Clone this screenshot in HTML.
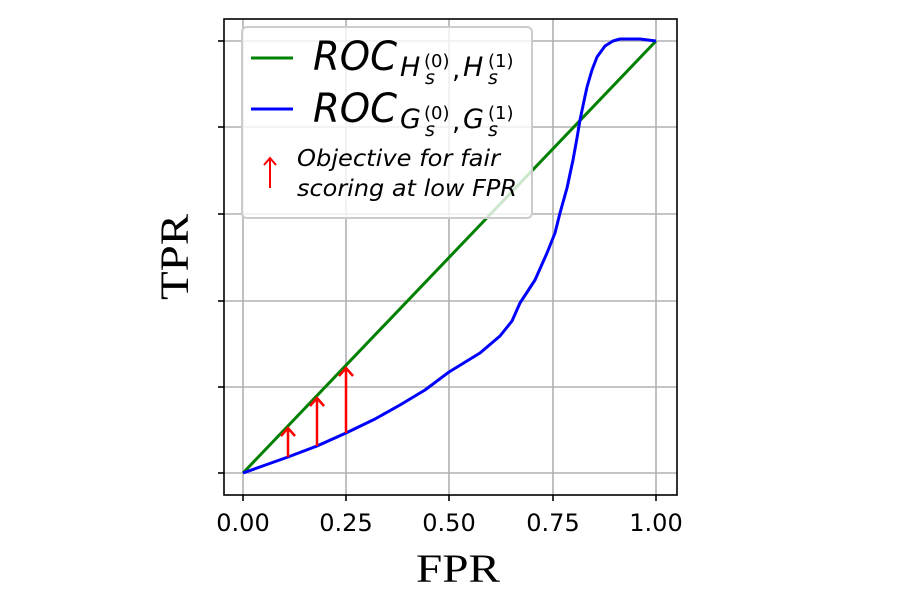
<!DOCTYPE html>
<html><head><meta charset="utf-8"><style>body{margin:0;background:#fff}svg{display:block}</style></head><body>
<svg width="900" height="600" viewBox="0 0 900 600" xmlns="http://www.w3.org/2000/svg" font-family="DejaVu Sans, Liberation Sans, sans-serif">
<g stroke="#b0b0b0" stroke-width="1.6">
<line x1="243" y1="19" x2="243" y2="495"/><line x1="346" y1="19" x2="346" y2="495"/><line x1="449" y1="19" x2="449" y2="495"/><line x1="553" y1="19" x2="553" y2="495"/><line x1="656" y1="19" x2="656" y2="495"/>
<line x1="224" y1="41" x2="677" y2="41"/><line x1="224" y1="127" x2="677" y2="127"/><line x1="224" y1="214" x2="677" y2="214"/><line x1="224" y1="301" x2="677" y2="301"/><line x1="224" y1="387" x2="677" y2="387"/><line x1="224" y1="473" x2="677" y2="473"/>
</g>
<line x1="243" y1="473" x2="656" y2="41" stroke="#008000" stroke-width="3"/>
<polyline points="243,473 288,457 317,446 346,433 375,419 400,405 425,390 449,372 480,353 500,336 512,321 520,303 535,280 547,253 555,233 560,213 567,188 573,160 577,138 580,120 584,101 587,87 592,70 597,57 605,46 613,41 620,39 627,39 640,39 656,41" fill="none" stroke="#0000ff" stroke-width="3" stroke-linejoin="round"/>
<g stroke="#ff0000" stroke-width="2.5" fill="none">
<line x1="288" y1="457" x2="288" y2="428"/><path d="M281,436 L288,428 L295,436"/>
<line x1="317" y1="446" x2="317" y2="398"/><path d="M310,406 L317,398 L324,406"/>
<line x1="346" y1="433" x2="346" y2="368"/><path d="M339,376 L346,368 L353,376"/>
</g>
<rect x="242" y="27" width="290" height="191" rx="5" fill="#fff" fill-opacity="0.8" stroke="#cccccc" stroke-width="2"/>
<line x1="251" y1="58" x2="293" y2="58" stroke="#008000" stroke-width="3"/>
<line x1="251" y1="109" x2="293" y2="109" stroke="#0000ff" stroke-width="3"/>
<g fill="#000">
<text x="313" y="70" font-size="40" font-style="italic" textLength="84" lengthAdjust="spacingAndGlyphs">ROC</text>
<text x="400" y="76" font-size="27" font-style="italic">H</text><text x="425" y="84" font-size="19" font-style="italic">s</text><text x="424" y="67" font-size="18">(0)</text>
<text x="452" y="78" font-size="26">,</text>
<text x="463" y="76" font-size="27" font-style="italic">H</text><text x="488" y="84" font-size="19" font-style="italic">s</text><text x="488" y="67" font-size="18">(1)</text>
<text x="313" y="122" font-size="40" font-style="italic" textLength="84" lengthAdjust="spacingAndGlyphs">ROC</text>
<text x="400" y="128" font-size="27" font-style="italic">G</text><text x="425" y="136" font-size="19" font-style="italic">s</text><text x="424" y="119" font-size="18">(0)</text>
<text x="452" y="130" font-size="26">,</text>
<text x="463" y="128" font-size="27" font-style="italic">G</text><text x="488" y="136" font-size="19" font-style="italic">s</text><text x="488" y="119" font-size="18">(1)</text>
<text x="297" y="166" font-size="23" font-style="italic" textLength="203" lengthAdjust="spacingAndGlyphs">Objective for fair</text>
<text x="297" y="196" font-size="23" font-style="italic" textLength="220" lengthAdjust="spacingAndGlyphs">scoring at low FPR</text>
</g>
<g stroke="#ff0000" stroke-width="2" fill="none"><line x1="270" y1="188" x2="270" y2="158"/><path d="M264,165 L270,158 L276,165"/></g>
<rect x="224" y="19" width="453" height="476" fill="none" stroke="#000" stroke-width="1.6"/>
<g stroke="#000" stroke-width="1.6">
<line x1="243" y1="495" x2="243" y2="501"/><line x1="346" y1="495" x2="346" y2="501"/><line x1="449" y1="495" x2="449" y2="501"/><line x1="553" y1="495" x2="553" y2="501"/><line x1="656" y1="495" x2="656" y2="501"/>
<line x1="218" y1="41" x2="224" y2="41"/><line x1="218" y1="127" x2="224" y2="127"/><line x1="218" y1="214" x2="224" y2="214"/><line x1="218" y1="301" x2="224" y2="301"/><line x1="218" y1="387" x2="224" y2="387"/><line x1="218" y1="473" x2="224" y2="473"/>
</g>
<g font-size="24" text-anchor="middle" fill="#000">
<text x="243" y="531">0.00</text><text x="346" y="531">0.25</text><text x="449" y="531">0.50</text><text x="553" y="531">0.75</text><text x="656" y="531">1.00</text>
</g>
<text x="458" y="582" font-size="40" text-anchor="middle" font-family="Liberation Serif, serif" textLength="84" lengthAdjust="spacingAndGlyphs">FPR</text>
<text transform="translate(188,257) rotate(-90)" font-size="40" text-anchor="middle" font-family="Liberation Serif, serif" textLength="86" lengthAdjust="spacingAndGlyphs">TPR</text>
</svg>
</body></html>
